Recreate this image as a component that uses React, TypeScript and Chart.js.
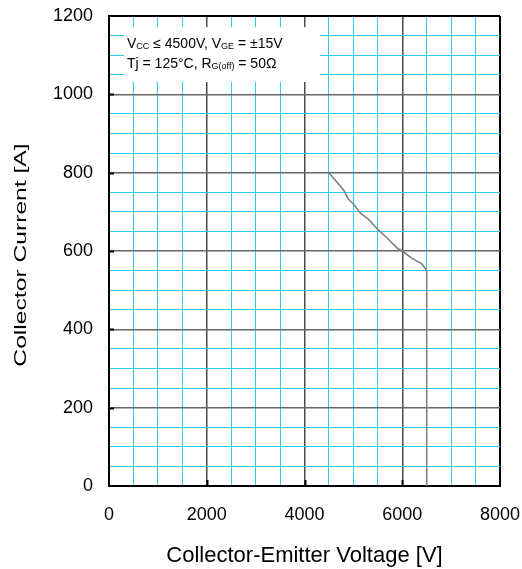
import React, { useEffect, useRef } from "react";
import { Chart, registerables } from "chart.js";

Chart.register(...registerables);

// ---- data ----
const voltageV = [4500, 4800, 4900, 5000, 5150, 5300, 5500, 5700, 5900, 6000, 6200, 6400, 6500, 6500];
const currentA = [800, 756, 732, 720, 696, 682, 655, 632, 607, 600, 581, 567, 550, 0];

const xMin = 0;
const xMax = 8000;
const xMinorStep = 500;
const xMajorStep = 2000;
const yMin = 0;
const yMax = 1200;
const yMinorStep = 50;
const yMajorStep = 200;

const xTitle = "Collector-Emitter Voltage [V]";
const yTitle = "Collector Current [A]";

const CYAN = "#2ccaf0";
const MAJOR_X = "#4a4a4a";
const MAJOR_Y = "#666666";
const FONT = "'Liberation Sans', Arial, Helvetica, sans-serif";

type Seg = { t: string; sub?: boolean };
const noteLine1: Seg[] = [
  { t: "V" }, { t: "CC", sub: true }, { t: " \u2264 4500V, V" }, { t: "GE", sub: true }, { t: " = \u00b115V" },
];
const noteLine2: Seg[] = [
  { t: "Tj = 125\u00b0C, R" }, { t: "G(off)", sub: true }, { t: " = 50\u03a9" },
];

const notePlugin = {
  id: "notePlugin",
  beforeDatasetsDraw(chart: any) {
    const ctx = chart.ctx as CanvasRenderingContext2D;
    const xs = chart.scales.x;
    const ys = chart.scales.y;
    const area = chart.chartArea;
    ctx.save();
    // inner tick marks at major ticks
    ctx.strokeStyle = "#000";
    ctx.lineWidth = 2;
    for (let v = yMin + yMajorStep; v < yMax; v += yMajorStep) {
      const py = Math.round(ys.getPixelForValue(v)) + 0.5;
      ctx.beginPath();
      ctx.moveTo(area.left, py);
      ctx.lineTo(area.left + 5, py);
      ctx.stroke();
    }
    for (let v = xMin + xMajorStep; v < xMax; v += xMajorStep) {
      const px = Math.round(xs.getPixelForValue(v)) + 0.5;
      ctx.beginPath();
      ctx.moveTo(px, area.bottom);
      ctx.lineTo(px, area.bottom - 6);
      ctx.stroke();
    }
    // note box
    const bx = area.left + 15;
    const by = area.top + 11;
    const bw = 196;
    const bh = 55;
    ctx.fillStyle = "#ffffff";
    ctx.fillRect(bx, by, bw, bh);
    ctx.fillStyle = "#000";
    ctx.textBaseline = "alphabetic";
    ctx.textAlign = "left";
    const drawLine = (segs: Seg[], x0: number, y0: number) => {
      let x = x0;
      for (const s of segs) {
        ctx.font = s.sub ? `9px ${FONT}` : `14px ${FONT}`;
        ctx.fillText(s.t, x, s.sub ? y0 + 1 : y0);
        x += ctx.measureText(s.t).width;
      }
    };
    drawLine(noteLine1, bx + 3, by + 21);
    drawLine(noteLine2, bx + 3, by + 41);
    ctx.restore();
  },
  afterDraw(chart: any) {
    // y-axis title, drawn stretched along its direction like the reference
    const ctx = chart.ctx as CanvasRenderingContext2D;
    const area = chart.chartArea;
    ctx.save();
    ctx.translate(21, (area.top + area.bottom) / 2 + 4);
    ctx.rotate(-Math.PI / 2);
    ctx.scale(1.45, 1);
    ctx.font = `17px ${FONT}`;
    ctx.fillStyle = "#000";
    ctx.textAlign = "center";
    ctx.textBaseline = "middle";
    ctx.fillText(yTitle, 0, 0);
    ctx.restore();
  },
};

export default function App() {
  const ref = useRef<HTMLCanvasElement | null>(null);
  useEffect(() => {
    if (!ref.current) return;
    const data = voltageV.map((v, i) => ({ x: v, y: currentA[i] }));
    const chart = new Chart(ref.current, {
      type: "line",
      data: {
        datasets: [
          {
            data,
            borderColor: "#808080",
            borderWidth: 1.6,
            pointRadius: 0,
            tension: 0,
            fill: false,
          },
        ],
      },
      options: {
        responsive: false,
        animation: false,
        layout: { padding: { top: 16, right: 22, left: 0, bottom: 0 } },
        plugins: { legend: { display: false }, tooltip: { enabled: false } },
        scales: {
          x: {
            type: "linear",
            min: xMin,
            max: xMax,
            afterFit: (axis: any) => {
              axis.height = 83;
              axis.paddingLeft = 0;
              axis.paddingRight = 0;
            },
            ticks: {
              stepSize: xMinorStep,
              autoSkip: false,
              maxRotation: 0,
              padding: 18,
              color: "#000",
              font: { family: FONT, size: 18 },
              callback: (v: any) => (Number(v) % xMajorStep === 0 ? String(v) : ""),
            },
            grid: {
              drawTicks: false,
              color: (c: any) => {
                const v = c.tick?.value;
                if (v === xMax || v === xMin) return "#000";
                return v % xMajorStep === 0 ? MAJOR_X : CYAN;
              },
              lineWidth: (c: any) => {
                const v = c.tick?.value;
                if (v === xMax || v === xMin) return 2;
                return v % xMajorStep === 0 ? 1.5 : 1;
              },
            },
            border: { color: "#000", width: 2 },
            title: {
              display: true,
              text: xTitle,
              color: "#000",
              font: { family: FONT, size: 22 },
              padding: { top: 0, bottom: 0 },
            },
          },
          y: {
            type: "linear",
            min: yMin,
            max: yMax,
            afterFit: (axis: any) => {
              axis.width = 109;
              axis.paddingTop = 0;
              axis.paddingBottom = 0;
            },
            ticks: {
              stepSize: yMinorStep,
              autoSkip: false,
              padding: 16,
              color: "#000",
              font: { family: FONT, size: 18 },
              callback: (v: any) => (Number(v) % yMajorStep === 0 ? String(v) : ""),
            },
            grid: {
              drawTicks: false,
              color: (c: any) => {
                const v = c.tick?.value;
                if (v === yMax || v === yMin) return "#000";
                return v % yMajorStep === 0 ? MAJOR_Y : CYAN;
              },
              lineWidth: (c: any) => {
                const v = c.tick?.value;
                if (v === yMax || v === yMin) return 2;
                return v % yMajorStep === 0 ? 1.5 : 1;
              },
            },
            border: { color: "#000", width: 2 },
            title: { display: false, text: yTitle },
          },
        },
      },
      plugins: [notePlugin],
    });
    return () => chart.destroy();
  }, []);
  return (
    <div style={{ position: "fixed", left: 0, top: 0, width: 522, height: 569, background: "#fff" }}>
      <canvas ref={ref} width={522} height={569} style={{ width: 522, height: 569 }} />
    </div>
  );
}
